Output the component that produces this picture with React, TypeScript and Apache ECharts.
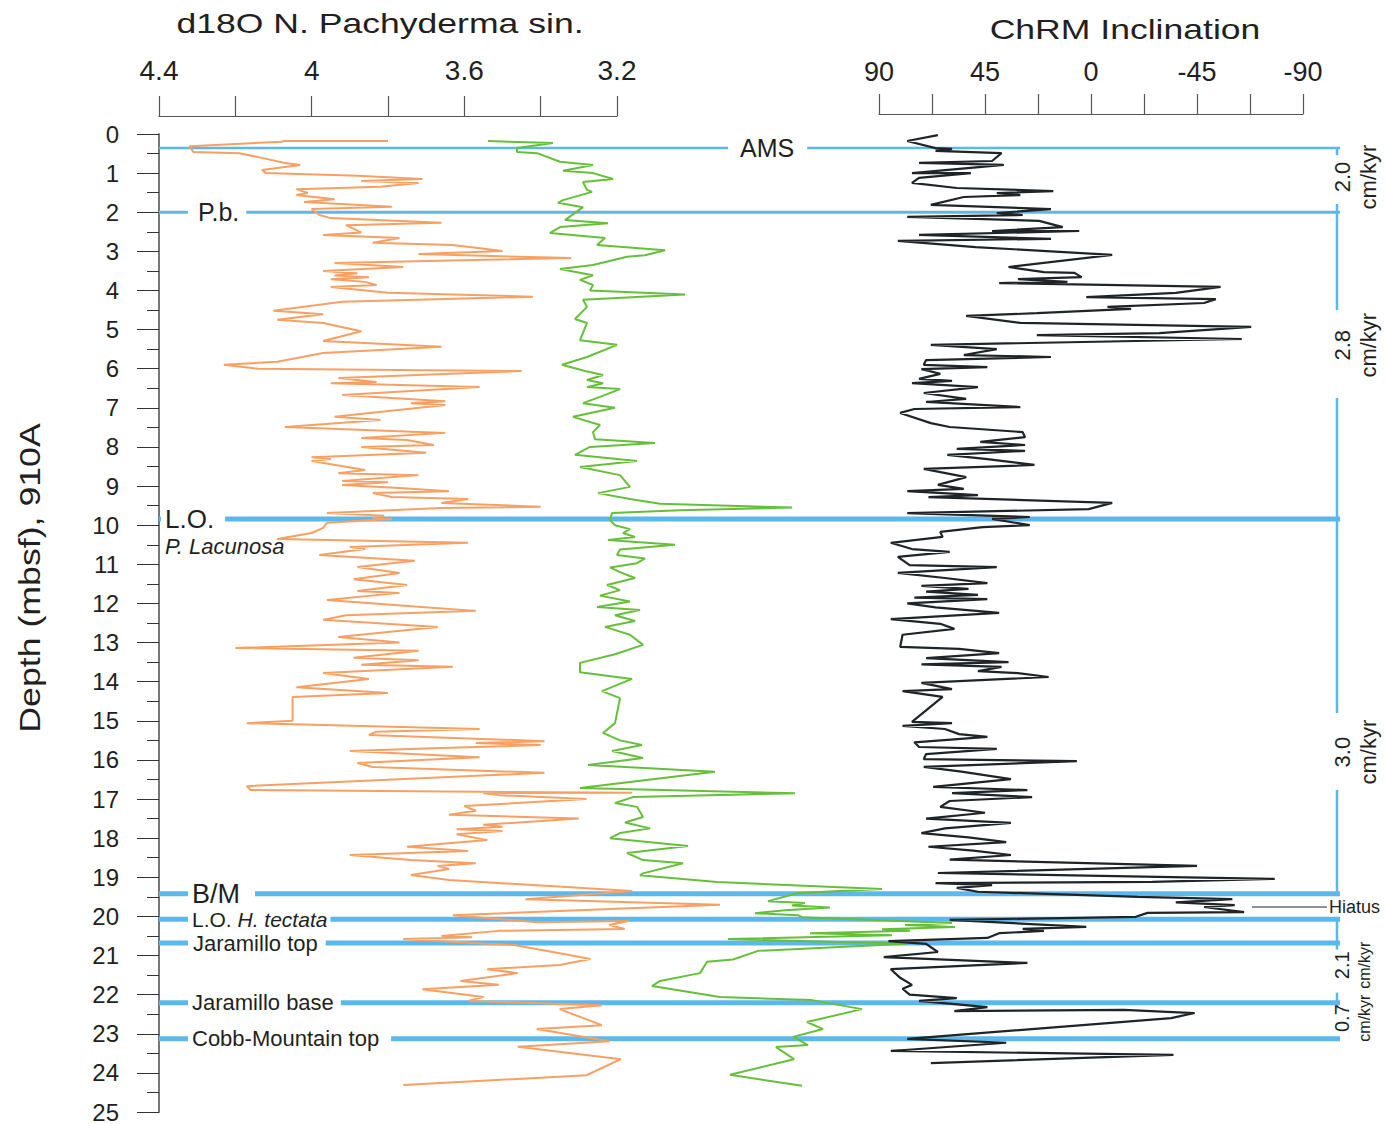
import React, { useEffect, useRef } from "react";
import * as echarts from "echarts";

// ---- d18O N. pachyderma sin. (orange) ----
const d18oDepth = [0.18,0.18,0.2,0.31,0.46,0.49,0.61,0.74,0.79,0.92,1.0,1.07,1.15,1.2,1.25,1.35,1.41,1.51,1.56,1.67,1.74,1.86,1.92,2.07,2.15,2.27,2.33,2.52,2.58,2.66,2.78,2.84,2.99,3.07,3.17,3.3,3.4,3.5,3.56,3.62,3.66,3.71,3.78,3.86,3.91,4.06,4.16,4.29,4.52,4.61,4.75,4.83,5.04,5.29,5.44,5.6,5.82,5.9,6.0,6.06,6.24,6.34,6.37,6.47,6.67,6.83,6.88,6.93,7.23,7.31,7.49,7.64,7.77,7.82,7.95,8.0,8.15,8.26,8.31,8.36,8.59,8.67,8.72,8.87,8.9,8.97,9.05,9.13,9.18,9.28,9.33,9.43,9.53,9.56,9.69,9.76,9.82,9.84,9.94,10.07,10.2,10.35,10.45,10.56,10.61,10.76,10.91,11.07,11.22,11.38,11.53,11.68,11.73,11.91,12.08,12.19,12.3,12.42,12.6,12.86,13.0,13.14,13.21,13.39,13.45,13.57,13.62,13.78,13.93,14.14,14.29,14.39,15.0,15.06,15.21,15.28,15.36,15.52,15.57,15.62,15.7,15.77,15.93,16.08,16.18,16.33,16.67,16.77,16.84,16.85,16.9,17.0,17.18,17.3,17.4,17.5,17.66,17.71,17.77,17.82,17.9,18.05,18.22,18.33,18.43,18.56,18.64,18.71,18.79,18.94,19.07,19.35,19.56,19.7,19.97,20.15,20.12,20.22,20.32,20.37,20.5,20.53,20.58,20.7,20.73,20.94,21.09,21.24,21.35,21.45,21.65,21.75,21.86,22.06,22.16,22.27,22.37,22.78,22.88,23.19,23.33,23.65,24.06,24.31];
const d18oValue = [3.8,4.07,4.08,4.32,4.31,4.19,4.13,4.07,4.03,4.13,4.12,3.88,3.71,3.87,3.72,3.82,4.04,4.01,4.04,3.94,4.02,3.79,4.0,3.98,3.95,3.66,3.91,3.87,3.97,3.77,3.84,3.63,3.5,3.72,3.32,3.94,3.76,3.97,3.88,3.94,3.85,3.95,3.86,3.83,3.95,3.8,3.42,3.92,4.1,3.97,4.09,3.97,3.87,3.97,3.66,3.97,4.09,4.23,4.14,3.45,3.93,3.83,3.95,3.56,3.92,3.65,3.74,3.65,3.94,3.82,4.07,3.65,3.87,3.75,3.68,3.87,3.7,4.0,3.95,4.0,3.86,3.93,3.72,3.92,3.8,3.92,3.77,3.64,3.84,3.79,3.59,3.66,3.4,3.66,3.96,3.81,3.84,3.79,3.96,3.97,4.0,4.09,3.59,3.9,3.86,3.98,3.73,3.88,3.77,3.89,3.75,3.88,3.77,3.96,3.73,3.57,3.91,3.97,3.67,3.93,3.77,4.2,3.72,3.89,3.72,3.87,3.63,3.97,3.85,4.04,3.8,4.05,4.05,4.17,3.56,3.83,3.85,3.39,3.57,3.4,3.68,3.9,3.56,3.88,3.84,3.39,4.17,4.16,3.16,3.55,3.51,3.28,3.6,3.57,3.64,3.3,3.55,3.5,3.62,3.5,3.62,3.54,3.75,3.59,3.9,3.74,3.57,3.67,3.64,3.74,3.64,3.16,3.44,2.93,3.63,3.41,3.17,3.22,3.18,3.51,3.66,3.58,3.76,3.54,3.47,3.35,3.27,3.35,3.54,3.46,3.61,3.51,3.71,3.55,3.59,3.24,3.35,3.24,3.41,3.22,3.46,3.19,3.28,3.76];

// ---- second isotope record (green, relative units, no axis drawn) ----
const greenDepth = [0.18,0.23,0.36,0.46,0.49,0.71,0.79,0.94,1.0,1.15,1.23,1.43,1.48,1.69,1.76,1.87,2.2,2.28,2.38,2.53,2.66,2.84,2.97,3.1,3.14,3.35,3.45,3.61,3.73,3.86,4.0,4.1,4.24,4.42,4.73,4.83,5.27,5.39,5.7,5.9,6.06,6.16,6.29,6.37,6.47,6.52,6.72,6.88,7.0,7.23,7.44,7.62,7.8,7.9,8.0,8.2,8.36,8.51,8.72,9.02,9.18,9.33,9.45,9.55,9.62,9.69,9.87,10.0,10.1,10.2,10.3,10.38,10.5,10.62,10.76,10.85,10.97,11.08,11.2,11.35,11.53,11.66,11.8,11.95,12.09,12.17,12.3,12.45,12.6,12.8,13.06,13.3,13.52,13.76,13.93,14.24,14.42,15.06,15.31,15.5,15.62,15.77,15.95,16.13,16.3,16.72,16.85,16.95,17.1,17.2,17.46,17.6,17.75,17.87,18.0,18.2,18.38,18.56,18.64,18.9,18.95,19.12,19.3,19.4,19.61,19.66,19.72,19.77,19.84,19.92,19.97,20.02,20.09,20.17,20.22,20.27,20.33,20.37,20.43,20.48,20.58,20.7,20.88,21.1,21.16,21.45,21.65,21.78,22.06,22.14,22.37,22.7,22.88,23.08,23.29,23.34,23.65,24.05,24.33];
const greenValue = [1.6,14.6,7.4,7.4,11.4,16,22.6,16.6,22.6,26.6,20.6,21.4,22.4,16.6,15.6,20.6,17,25.6,16,14,25,23.4,37,33,29.4,22.6,16,22.6,20,22.6,22,41,20.6,21.4,19,21.4,20,27.4,21.4,16.4,21,24.6,21.4,24.6,21.4,28,24,20.6,27,18.6,24,22.6,23,35,22,19,31.4,20,28,30,23.6,30,36,62.4,40,26.4,26,27,30,28.6,31,25.6,39,28,27.4,33,31.4,26,28,31,25.4,28,24,30,23.4,32,27,31,25,30,32.6,27,20,20,30.4,24.4,28,27,24.6,28,32.4,26.4,32.6,21.6,47,20,63,30.6,27,31.4,32.6,29,34,28,26,41.6,29.4,32.6,40.6,32.6,32,47.4,80.4,63.6,57.6,65,62.4,70,61,55,63.6,64.4,78.6,94.4,85,95,80.4,86,66,82.4,49.6,85.4,55.6,50.6,45.4,44,36,34.4,48,66.4,76.4,65.4,68.6,62.6,65.6,59.2,62.8,50,64.4];

// ---- ChRM inclination (black) ----
const chrmDepth = [0.03,0.18,0.36,0.38,0.43,0.49,0.69,0.74,0.79,1.0,1.0,1.12,1.25,1.38,1.46,1.51,1.56,1.61,1.81,1.92,2.02,2.07,2.12,2.22,2.38,2.48,2.48,2.58,2.68,2.73,2.89,3.09,3.4,3.53,3.55,3.66,3.71,3.78,3.81,3.91,4.06,4.17,4.22,4.32,4.42,4.47,4.58,4.65,4.83,4.93,5.09,5.14,5.24,5.39,5.5,5.65,5.7,5.78,5.9,5.96,6.01,6.13,6.26,6.31,6.37,6.47,6.62,6.77,6.85,6.98,7.03,7.13,7.39,7.49,7.62,7.75,7.87,7.95,8.05,8.1,8.2,8.31,8.46,8.56,8.77,8.97,9.07,9.13,9.23,9.28,9.43,9.59,9.69,9.79,9.84,10.0,10.05,10.17,10.3,10.45,10.61,10.68,10.81,11.02,11.07,11.22,11.35,11.48,11.55,11.63,11.7,11.78,11.85,11.89,12.0,12.1,12.24,12.4,12.52,12.65,12.8,13.11,13.16,13.27,13.4,13.5,13.56,13.62,13.73,13.78,13.88,14.03,14.19,14.24,14.39,15.03,15.06,15.13,15.21,15.34,15.41,15.55,15.67,15.72,15.85,15.98,16.03,16.18,16.3,16.49,16.69,16.77,16.85,16.95,17.05,17.2,17.35,17.5,17.61,17.75,17.87,17.98,18.1,18.22,18.32,18.43,18.55,18.71,18.89,19.04,19.12,19.15,19.2,19.27,19.37,19.5,19.56,19.64,19.71,19.76,19.89,19.91,20.01,20.09,20.27,20.32,20.37,20.43,20.55,20.63,20.7,20.91,21.04,21.19,21.35,21.57,21.75,21.85,22.0,22.09,22.16,22.32,22.42,22.39,22.47,22.6,23.13,23.23,23.44,23.54,23.75];
const chrmValue = [65,78,66,59,66,38,42,73,37,76,51,73,76,57,16,40,30,54,68,17,40,29,78,22,12,42,5,73,17,82,49,-9,35,20,7,4,31,10,39,-55,-36,2,-53,-48,-7,-17,23,53,30,-68,-29,23,-64,68,40,54,17,70,71,44,72,64,73,59,76,48,71,53,70,30,75,81,68,60,29,28,47,28,57,28,61,44,24,71,53,65,54,78,48,69,-9,1,78,26,42,26,46,64,63,85,76,60,82,77,40,82,62,44,72,52,70,48,75,44,78,66,39,85,64,58,80,81,56,39,70,35,72,38,48,31,18,72,59,80,63,76,59,80,62,56,44,75,73,40,70,71,6,71,55,34,67,27,59,25,60,64,45,70,34,62,72,52,36,69,50,34,60,-45,65,-78,-26,66,42,57,48,-20,-60,-36,-61,-48,-65,-24,-19,60,2,29,20,39,44,86,70,65,88,27,85,81,76,80,77,57,73,44,58,-14,-44,-34,78,36,85,-35,68];

// ---- axes ----
const depthMin = 0;
const depthMax = 25;
const d18oMin = 3.2;
const d18oMax = 4.4;
const d18oPlotMin = 2.8; // orange record runs past the drawn 3.2 end of its axis
const chrmMin = -90;
const chrmMax = 90;

// ---- stratigraphic events ----
const eventDepths = [0.36, 2.0, 9.84, 19.42, 20.07, 20.68, 22.21, 23.13];
const eventLabels = ["AMS", "P.b.", "L.O.", "B/M", "L.O. H. tectata", "Jaramillo top", "Jaramillo base", "Cobb-Mountain top"];

// ---- sedimentation rates ----
const rateValues = ["2.0", "2.8", "3.0", "2.1", "0.7"];
const rateDepths = [1.1, 5.4, 15.8, 21.25, 22.6];
const rateBarRanges = [[0.36, 0.54], [1.79, 4.5], [6.75, 14.8], [16.77, 19.42], [20.07, 20.85], [21.95, 22.35]];
const hiatusDepth = 19.76;

const FONT = "'Liberation Sans', Arial, Helvetica, sans-serif";
const TXT = "#231f20";
const BLUE = "#5cb8ec";

export default function App() {
  const ref = useRef<HTMLDivElement>(null);

  useEffect(() => {
    const chart = echarts.init(ref.current!, null, { renderer: "svg" });
    const depthAxisBase = { type: "value", min: depthMin, max: depthMax, interval: 1, inverse: true };
    const d18oPxPerUnit = 458 / (d18oMax - d18oMin);

    chart.setOption({
      animation: false,
      backgroundColor: "#fff",
      grid: [
        { left: 159, top: 134, width: 458, height: 978 },
        { left: 480, top: 134, width: 500, height: 978 },
        { left: 879, top: 134, width: 424, height: 978 },
        { left: 159, top: 134, width: d18oPxPerUnit * (d18oMax - d18oPlotMin), height: 978 },
      ],
      xAxis: [
        {
          gridIndex: 0, type: "value", position: "top", offset: 18,
          min: d18oMin, max: d18oMax, interval: 0.2, inverse: true,
          axisLine: { show: true, onZero: false, lineStyle: { color: "#555", width: 1.2 } },
          axisTick: { show: true, length: 20, lineStyle: { color: "#555", width: 1.2 } },
          axisLabel: {
            margin: 32, fontSize: 28, color: TXT, fontFamily: FONT,
            formatter: (v: number) => (Math.round(v * 10) % 4 === 0 ? String(Math.round(v * 10) / 10) : ""),
          },
          splitLine: { show: false },
        },
        { gridIndex: 1, type: "value", min: 0, max: 100, show: false },
        {
          gridIndex: 2, type: "value", position: "top", offset: 20,
          min: chrmMin, max: chrmMax, interval: 22.5, inverse: true,
          axisLine: { show: true, onZero: false, lineStyle: { color: "#555", width: 1.2 } },
          axisTick: { show: true, length: 20, lineStyle: { color: "#555", width: 1.2 } },
          axisLabel: {
            margin: 29, fontSize: 27, color: TXT, fontFamily: FONT,
            formatter: (v: number) => (Math.round(v) % 45 === 0 ? String(Math.round(v)) : ""),
          },
          splitLine: { show: false },
        },
        { gridIndex: 3, type: "value", min: d18oPlotMin, max: d18oMax, inverse: true, show: false },
      ],
      yAxis: [
        {
          ...depthAxisBase, gridIndex: 0, position: "left",
          axisLine: { show: true, onZero: false, lineStyle: { color: "#777", width: 2 } },
          axisTick: { show: true, length: 22, lineStyle: { color: "#333", width: 1 } },
          minorTick: { show: true, splitNumber: 2, length: 12, lineStyle: { color: "#333", width: 1 } },
          axisLabel: { margin: 40, fontSize: 24, color: TXT, fontFamily: FONT },
          splitLine: { show: false },
          minorSplitLine: { show: false },
        },
        { ...depthAxisBase, gridIndex: 1, show: false },
        { ...depthAxisBase, gridIndex: 2, show: false },
        { ...depthAxisBase, gridIndex: 3, show: false },
      ],
      series: [
        {
          type: "line", xAxisIndex: 3, yAxisIndex: 3,
          showSymbol: false, symbol: "none", z: 3,
          lineStyle: { color: "#f7a063", width: 2 },
          data: d18oDepth.map((d, i) => [d18oValue[i], d]),
        },
        {
          type: "line", xAxisIndex: 1, yAxisIndex: 1,
          showSymbol: false, symbol: "none", z: 3,
          lineStyle: { color: "#66bf3a", width: 2 },
          data: greenDepth.map((d, i) => [greenValue[i], d]),
        },
        {
          type: "line", xAxisIndex: 2, yAxisIndex: 2,
          showSymbol: false, symbol: "none", z: 4,
          lineStyle: { color: "#1e2427", width: 2.2 },
          data: chrmDepth.map((d, i) => [chrmValue[i], d]),
        },
      ],
    });

    const py = (d: number) => chart.convertToPixel({ yAxisIndex: 0 }, d) as number;
    const g: any[] = [];

    // titles
    g.push({ type: "text", x: 380, y: 23, scaleX: 1.27, z: 20,
      style: { text: "d18O N. Pachyderma sin.", fontSize: 28, fontFamily: FONT, fill: TXT, align: "center", verticalAlign: "middle" } });
    g.push({ type: "text", x: 1125, y: 29, scaleX: 1.27, z: 20,
      style: { text: "ChRM Inclination", fontSize: 28, fontFamily: FONT, fill: TXT, align: "center", verticalAlign: "middle" } });
    g.push({ type: "text", x: 30, y: 578, rotation: Math.PI / 2, scaleX: 1.19, z: 20,
      style: { text: "Depth (mbsf), 910A", fontSize: 30, fontFamily: FONT, fill: TXT, align: "center", verticalAlign: "middle" } });

    // event lines
    const lineW = [2.5, 3, 5, 5, 5, 5, 5, 5];
    eventDepths.forEach((d, i) => {
      g.push({ type: "line", z: 1, shape: { x1: 159, y1: py(d), x2: 1340, y2: py(d) }, style: { stroke: BLUE, lineWidth: lineW[i] } });
    });

    // event labels (white boxes interrupt the lines)
    const lab = [
      { x: 728, fs: 25, pad: [3, 13, 3, 12] },
      { x: 188, fs: 25, pad: [3, 7, 3, 10] },
      { x: 161, fs: 26, pad: [3, 11, 3, 4] },
      { x: 188, fs: 27, pad: [1, 15, 1, 4] },
      { x: 188, fs: 21, pad: [1, 3, 1, 4] },
      { x: 188, fs: 22, pad: [1, 8, 1, 5] },
      { x: 188, fs: 22, pad: [1, 7, 1, 4] },
      { x: 188, fs: 22, pad: [1, 12, 1, 4] },
    ];
    eventDepths.forEach((d, i) => {
      const L = lab[i];
      const isTectata = i === 4;
      g.push({
        type: "text", x: L.x, y: py(d), z: 10,
        style: isTectata
          ? {
              text: "{n|L.O. }{i|H. tectata}",
              rich: { n: { fontSize: L.fs, fontFamily: FONT, fill: TXT }, i: { fontSize: L.fs, fontFamily: FONT, fontStyle: "italic", fill: TXT } },
              align: "left", verticalAlign: "middle", backgroundColor: "#fff", padding: L.pad,
            }
          : {
              text: eventLabels[i], fontSize: L.fs, fontFamily: FONT, fill: TXT,
              align: "left", verticalAlign: "middle", backgroundColor: "#fff", padding: L.pad,
            },
      });
    });
    g.push({ type: "text", x: 165, y: py(eventDepths[2]) + 28, z: 10,
      style: { text: "P. Lacunosa", fontSize: 22, fontFamily: FONT, fontStyle: "italic", fill: TXT, align: "left", verticalAlign: "middle" } });

    // sedimentation-rate bar
    rateBarRanges.forEach(([a, b]) => {
      g.push({ type: "line", z: 1, shape: { x1: 1337, y1: py(a), x2: 1337, y2: py(b) }, style: { stroke: BLUE, lineWidth: 2.5 } });
    });
    const small = [false, false, false, true, true];
    rateValues.forEach((v, i) => {
      const y = py(rateDepths[i]);
      g.push({ type: "text", x: 1342, y, rotation: Math.PI / 2, z: 10,
        style: { text: v, fontSize: small[i] ? 20 : 22, fontFamily: FONT, fill: TXT, align: "center", verticalAlign: "middle" } });
      g.push({ type: "text", x: small[i] ? 1364 : 1368, y, rotation: Math.PI / 2, z: 10,
        style: { text: "cm/kyr", fontSize: small[i] ? 16 : 22, fontFamily: FONT, fill: TXT, align: "center", verticalAlign: "middle" } });
    });

    // hiatus
    const hy = py(hiatusDepth);
    g.push({ type: "line", z: 5, shape: { x1: 1252, y1: hy, x2: 1327, y2: hy }, style: { stroke: "#222", lineWidth: 1 } });
    g.push({ type: "text", x: 1329, y: hy, z: 10,
      style: { text: "Hiatus", fontSize: 18, fontFamily: FONT, fill: TXT, align: "left", verticalAlign: "middle" } });

    chart.setOption({ graphic: g });
    return () => chart.dispose();
  }, []);

  return <div ref={ref} style={{ position: "fixed", left: 0, top: 0, width: 1386, height: 1124, background: "#fff" }} />;
}
